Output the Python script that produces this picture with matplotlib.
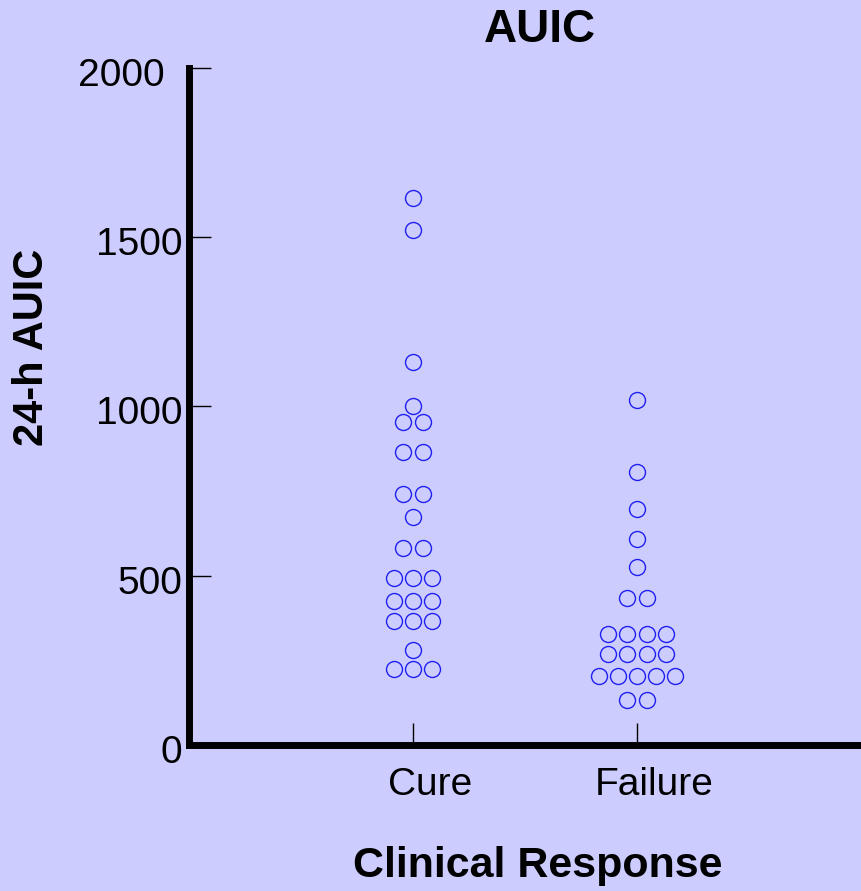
import matplotlib
matplotlib.use("Agg")
import matplotlib.pyplot as plt
import matplotlib.transforms as mtransforms
import numpy as np

plt.rcParams['font.family'] = ['Liberation Sans', 'DejaVu Sans']

groups = ["Cure", "Failure"]
cure_auic = [1617, 1522, 1130, 1000, 955, 955, 866, 866, 742, 742, 674,
             582, 582, 493, 493, 493, 424, 424, 424, 365, 365, 365,
             282, 223, 223, 223]
failure_auic = [1019, 807, 697, 608, 525, 433, 433,
                329, 329, 329, 329, 270, 270, 270, 270,
                205, 205, 205, 205, 205, 134, 134]
yticks = [0, 500, 1000, 1500, 2000]

BG = '#ccccff'
DX = 0.085  # horizontal step between tied points


def swarm_x(center, vals):
    # spread tied values side by side around the column centre
    vals = np.asarray(vals)
    xs = np.zeros(len(vals), dtype=float)
    for v in np.unique(vals):
        idx = np.where(vals == v)[0]
        n = len(idx)
        xs[idx] = center + (np.arange(n) - (n - 1) / 2) * DX
    return xs


def shift(label, dx_px, dy_px):
    off = mtransforms.ScaledTranslation(dx_px / 100, dy_px / 100,
                                        fig.dpi_scale_trans)
    label.set_transform(label.get_transform() + off)


fig = plt.figure(figsize=(8.61, 8.91), dpi=100, facecolor=BG)
ax = fig.add_axes([0.2195, 0.1639, 0.7805, 0.7598])
ax.set_facecolor(BG)

for i, vals in enumerate([cure_auic, failure_auic]):
    ax.plot(swarm_x(i, vals), vals, 'o', ms=11.5, mfc='none',
            mec='#2020f0', mew=1.0, ls='none', clip_on=False)

ax.set_xlim(-1, 2)
ax.set_ylim(0, 2000)
ax.set_xticks([0, 1])
ax.set_xticklabels(groups)
ax.set_yticks(yticks)

for s in ['top', 'right']:
    ax.spines[s].set_visible(False)
for s in ['left', 'bottom']:
    ax.spines[s].set_linewidth(5.0)
    ax.spines[s].set_capstyle('projecting')

ax.tick_params(axis='both', direction='in', length=16, width=1.0,
               labelsize=28, colors='black')
ax.tick_params(axis='y', pad=5)
ax.tick_params(axis='x', pad=16)

# label placement quirks of the original
for lab in ax.get_xticklabels():
    shift(lab, 17, 0)
for lab in ax.get_yticklabels():
    shift(lab, -17 if lab.get_text() == '2000' else 0, -4)

fig.text(0.627, 0.966, "AUIC", ha='center', va='center',
         fontsize=33, fontweight='bold')
fig.text(0.625, 0.028, "Clinical Response", ha='center', va='center',
         fontsize=31, fontweight='bold')
fig.text(0.037, 0.6106, "24-h AUIC", ha='center', va='center',
         rotation=90, fontsize=30, fontweight='bold')

fig.savefig("out.png", dpi=100, facecolor=BG)
